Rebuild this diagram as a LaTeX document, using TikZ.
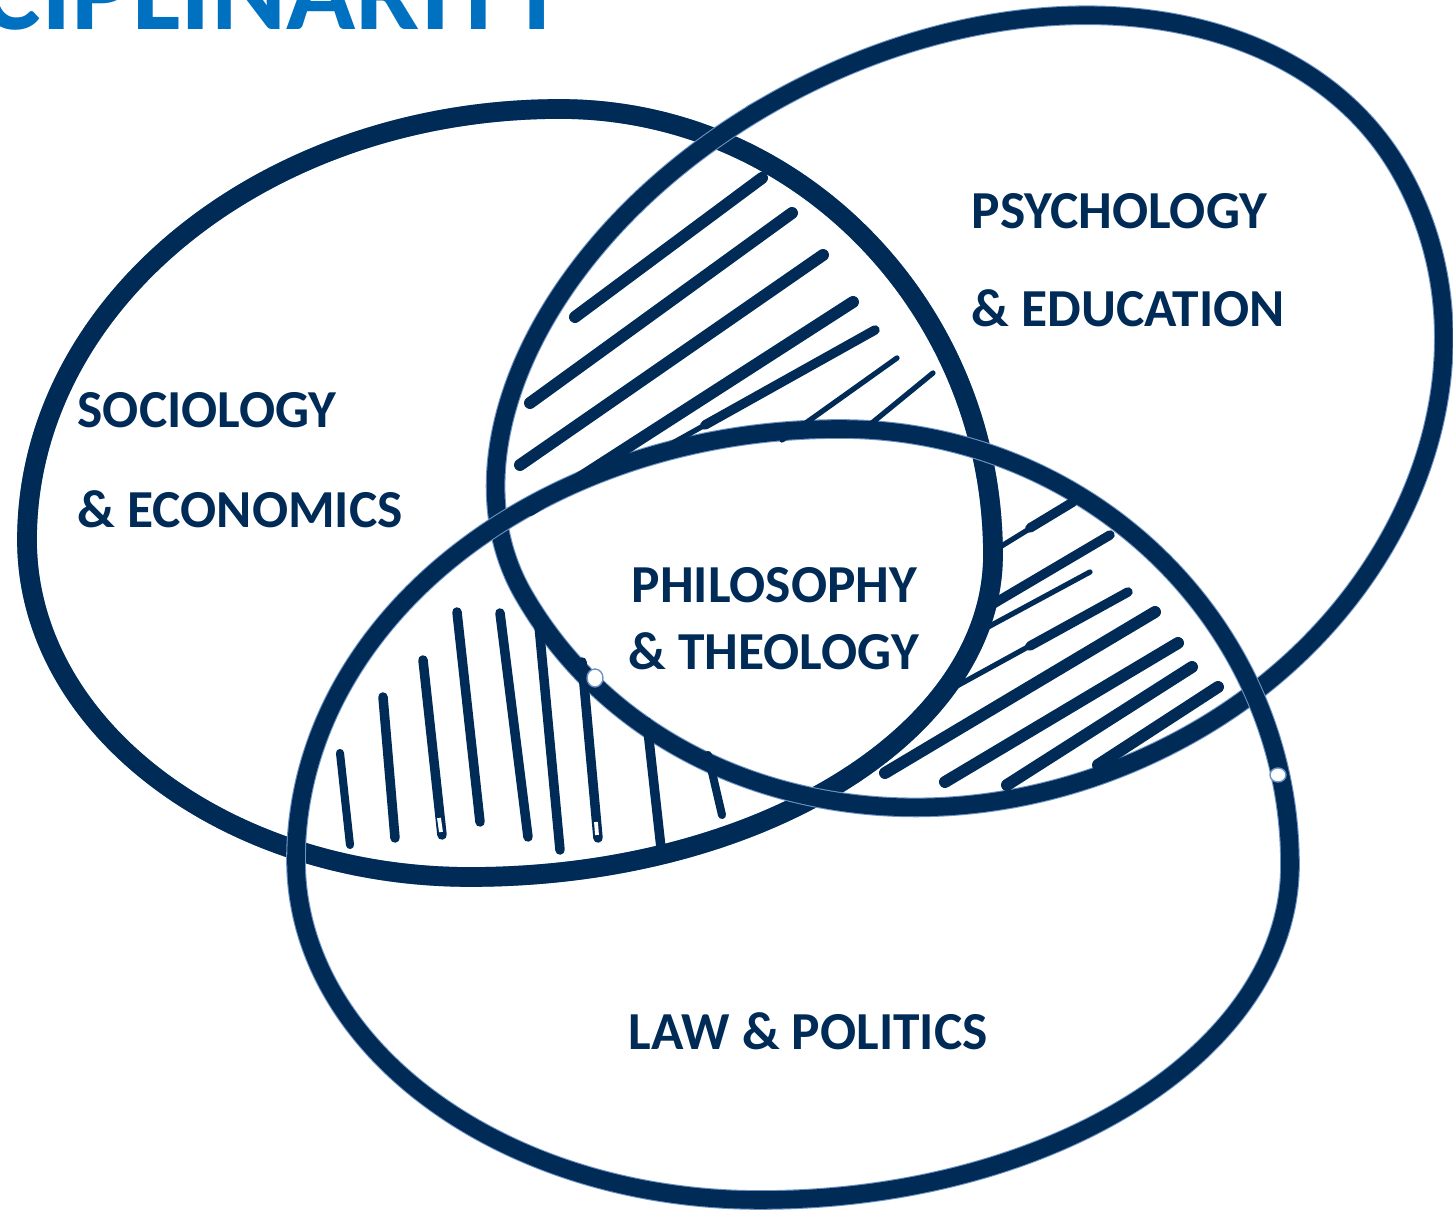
\documentclass[tikz,border=0pt]{standalone}
\usepackage{fontspec}
\setmainfont{Carlito}
\definecolor{navy}{HTML}{002B57}
\definecolor{halo}{HTML}{6F93C2}
\definecolor{titleblue}{HTML}{0070C0}

\begin{document}
\begin{tikzpicture}[x=0.01cm, y=-0.01cm,
		ring/.style={draw=navy, line width=5pt, preaction={draw=halo, line width=5.6pt}},
		hatch/.style={navy, line width=2.7pt, line cap=round},
		hatchthin/.style={hatch, line width=1.5pt},
		hatchthick/.style={hatch, line width=3.4pt},
		speck/.style={draw=halo, fill=white, line width=0.4pt},
		lbl/.style={font=\bfseries\fontsize{15.2}{18}\selectfont, text=navy, inner sep=0pt, anchor=base west}]
		\useasboundingbox (0,0) rectangle (1453,1210);
		% heading, cut by the page edge
		\node (head) [font=\bfseries\fontsize{32.5}{34}\selectfont, text=titleblue, inner sep=0pt, anchor=base west] at (-20,30) {CIPLINARITY};
		% sociology & economics
		\draw [ring, line width=5.6pt] (560,109)
			arc [start angle=270, end angle=360, x radius=433, y radius=446]
			arc [start angle=0, end angle=90, x radius=523, y radius=322]
			arc [start angle=90, end angle=180, x radius=443, y radius=337]
			arc [start angle=180, end angle=270, x radius=533, y radius=431] -- cycle;
		% psychology & education, tilted
		\begin{scope}[shift={(970,418)}, rotate=30]
			\draw [ring] (-20,-372)
				arc [start angle=270, end angle=360, x radius=516, y radius=372]
				arc [start angle=0, end angle=90, x radius=456, y radius=384]
				arc [start angle=90, end angle=180, x radius=515, y radius=454]
				arc [start angle=180, end angle=270, x radius=455, y radius=302] -- cycle;
		\end{scope}
		% law & politics
		\draw [ring] (840,429)
			arc [start angle=270, end angle=360, x radius=450, y radius=436]
			arc [start angle=0, end angle=90, x radius=530, y radius=335]
			arc [start angle=90, end angle=180, x radius=464, y radius=340]
			arc [start angle=180, end angle=270, x radius=544, y radius=431] -- cycle;
		% hatching: sociology and psychology
		\draw [hatchthick] (575,317) -- (762,178);
		\draw [hatchthick] (530,403) -- (792,213);
		\draw [hatchthick] (520,465) -- (823,255);
		\draw [hatchthick] (530,510) -- (853,302);
		\draw [hatchthin] (637,463) -- (875,330);
		\draw [hatch] (705,425) -- (875,330);
		\draw [hatchthin] (782,440) -- (897,358);
		\draw [hatchthin] (867,427) -- (933,373);
		% hatching: psychology and law
		\draw [hatchthin] (1073,502) -- (1000,547);
		\draw [hatch] (1073,502) -- (1030,528);
		\draw [hatch] (1110,535) -- (983,610);
		\draw [hatchthin] (1090,572) -- (977,633);
		\draw [hatchthin] (1128,592) -- (955,687);
		\draw [hatch] (1128,592) -- (1030,646);
		\draw [hatchthick] (1155,612) -- (885,773);
		\draw [hatchthick] (1178,643) -- (945,782);
		\draw [hatchthick] (1192,667) -- (1007,785);
		\draw [hatchthick] (1218,687) -- (1098,765);
		% hatching: sociology and law
		\draw [hatch, line width=2.3pt] (340,753) -- (350,845);
		\draw [hatch] (383,697) -- (395,838);
		\draw [hatch] (423,660) -- (442,835);
		\draw [hatch] (457,612) -- (480,822);
		\draw [hatch] (500,613) -- (528,837);
		\draw [hatch] (538,615) -- (560,850);
		\draw [hatch] (582,662) -- (598,838);
		\draw [hatch] (647,722) -- (662,857);
		\draw [hatch, line width=2.3pt] (708,755) -- (722,815);
		% worn spots
		\draw [white, line width=1.1pt] (439,818) -- (441,832);
		\draw [white, line width=1.1pt] (596,822) -- (597,835);
		\fill [speck] (595,678) ellipse [x radius=8, y radius=9];
		\fill [speck] (1278,775) ellipse [x radius=8, y radius=7];
		% labels
		\node (psy) [lbl] at (971,229) {PSYCHOLOGY};
		\node (edu) [lbl] at (971,327) {\& EDUCATION};
		\node (soc) [lbl] at (77,428) {SOCIOLOGY};
		\node (eco) [lbl] at (77,528) {\& ECONOMICS};
		\node (phi) [lbl] at (631,603) {PHILOSOPHY};
		\node (the) [lbl] at (628,670) {\& THEOLOGY};
		\node (law) [lbl] at (628,1050) {LAW \& POLITICS};
	\end{tikzpicture}
\end{document}
